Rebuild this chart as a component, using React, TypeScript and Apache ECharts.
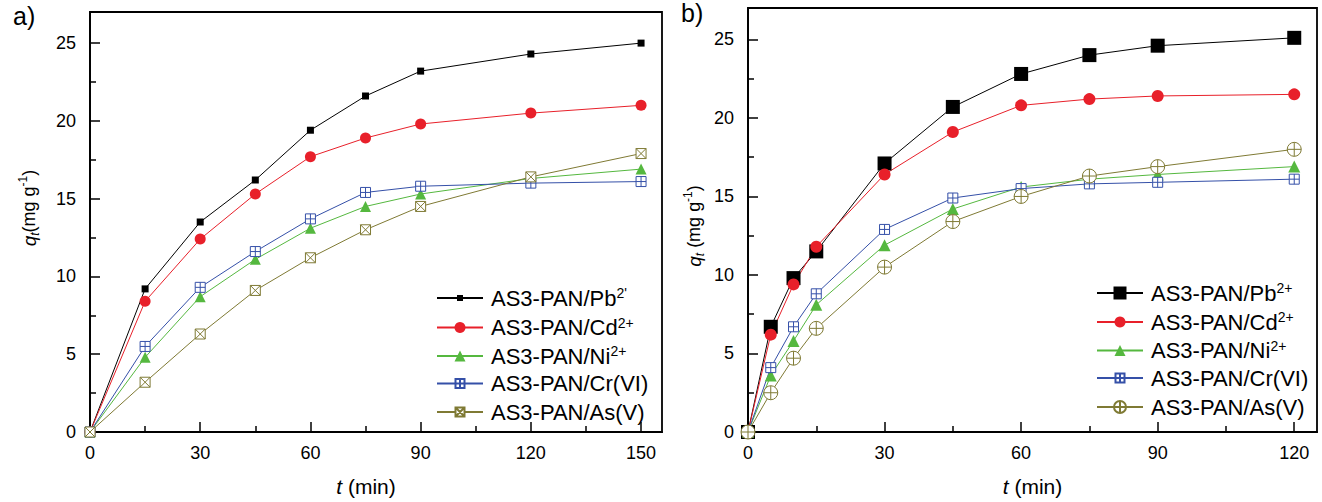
import React, { useEffect, useRef } from 'react';
import * as echarts from 'echarts';

// Adsorption kinetics: uptake q_t (mg g^-1) versus contact time t (min)

// Panel a) time points
const timeA = [0, 15, 30, 45, 60, 75, 90, 120, 150];
const pbA = [0, 9.2, 13.5, 16.2, 19.4, 21.6, 23.2, 24.3, 25.0];
const cdA = [0, 8.4, 12.4, 15.3, 17.7, 18.9, 19.8, 20.5, 21.0];
const niA = [0, 4.8, 8.7, 11.1, 13.1, 14.5, 15.3, 16.3, 16.9];
const crA = [0, 5.5, 9.3, 11.6, 13.7, 15.4, 15.8, 16.0, 16.1];
const asA = [0, 3.2, 6.3, 9.1, 11.2, 13.0, 14.5, 16.4, 17.9];

// Panel b) time points
const timeB = [0, 5, 10, 15, 30, 45, 60, 75, 90, 120];
const pbB = [0, 6.7, 9.8, 11.5, 17.1, 20.7, 22.8, 24.0, 24.6, 25.1];
const cdB = [0, 6.2, 9.4, 11.8, 16.4, 19.1, 20.8, 21.2, 21.4, 21.5];
const niB = [0, 3.6, 5.8, 8.1, 11.9, 14.2, 15.6, 16.1, 16.4, 16.9];
const crB = [0, 4.1, 6.7, 8.8, 12.9, 14.9, 15.5, 15.8, 15.9, 16.1];
const asB = [0, 2.5, 4.7, 6.6, 10.5, 13.4, 15.0, 16.3, 16.9, 18.0];

// Tick positions
const majorXA = [0, 30, 60, 90, 120, 150];
const minorXA = [15, 45, 75, 105, 135];
const majorXB = [0, 30, 60, 90, 120];
const minorXB = [15, 45, 75, 105];
const majorY = [0, 5, 10, 15, 20, 25];
const minorY = [2.5, 7.5, 12.5, 17.5, 22.5];

const FONT = '"Liberation Sans", Arial, Helvetica, sans-serif';
const BLACK = '#000000';
const RED = '#e8202a';
const GREEN = '#55b83f';
const BLUE = '#3550a8';
const OLIVE = '#7f7a34';

const SYM_BOX_PLUS = 'path://M0,0L10,0L10,10L0,10Z M5,0L5,10 M0,5L10,5';
const SYM_BOX_X = 'path://M0,0L10,0L10,10L0,10Z M0,0L10,10 M10,0L0,10';
const SYM_CIRCLE_PLUS =
  'path://M10,5A5,5 0 1 1 0,5A5,5 0 1 1 10,5Z M5,0L5,10 M0,5L10,5';

type SeriesDef = {
  name: string;
  label: string;
  xs: number[];
  ys: number[];
  color: string;
  symbol: string;
  size: number;
  legendSize: number;
  hollow?: boolean;
};

const seriesA: SeriesDef[] = [
  { name: 'a-Pb', label: "{m|AS3-PAN/Pb}{sup|2'}", xs: timeA, ys: pbA, color: BLACK, symbol: 'rect', size: 7, legendSize: 6 },
  { name: 'a-Cd', label: '{m|AS3-PAN/Cd}{sup|2+}', xs: timeA, ys: cdA, color: RED, symbol: 'circle', size: 11, legendSize: 11 },
  { name: 'a-Ni', label: '{m|AS3-PAN/Ni}{sup|2+}', xs: timeA, ys: niA, color: GREEN, symbol: 'triangle', size: 11, legendSize: 11 },
  { name: 'a-Cr', label: '{m|AS3-PAN/Cr(VI)}', xs: timeA, ys: crA, color: BLUE, symbol: SYM_BOX_PLUS, size: 10, legendSize: 9, hollow: true },
  { name: 'a-As', label: '{m|AS3-PAN/As(V)}', xs: timeA, ys: asA, color: OLIVE, symbol: SYM_BOX_X, size: 10, legendSize: 9, hollow: true },
];

const seriesB: SeriesDef[] = [
  { name: 'b-Pb', label: '{m|AS3-PAN/Pb}{sup|2+}', xs: timeB, ys: pbB, color: BLACK, symbol: 'rect', size: 14, legendSize: 13 },
  { name: 'b-Cd', label: '{m|AS3-PAN/Cd}{sup|2+}', xs: timeB, ys: cdB, color: RED, symbol: 'circle', size: 12, legendSize: 11 },
  { name: 'b-Ni', label: '{m|AS3-PAN/Ni}{sup|2+}', xs: timeB, ys: niB, color: GREEN, symbol: 'triangle', size: 12, legendSize: 11 },
  { name: 'b-Cr', label: '{m|AS3-PAN/Cr(VI)}', xs: timeB, ys: crB, color: BLUE, symbol: SYM_BOX_PLUS, size: 10, legendSize: 9, hollow: true },
  { name: 'b-As', label: '{m|AS3-PAN/As(V)}', xs: timeB, ys: asB, color: OLIVE, symbol: SYM_CIRCLE_PLUS, size: 14, legendSize: 12, hollow: true },
];

// Legend row centres (px) for each panel
const legendRowsA = [298, 327.5, 356, 384.5, 413];
const legendRowsB = [293, 322, 350.5, 379, 408];

const LEGEND_LINE_H = 24;

function buildSeries(defs: SeriesDef[], xAxisIndex: number, yAxisIndex: number) {
  return defs.map((s) => ({
    type: 'line',
    name: s.name,
    xAxisIndex,
    yAxisIndex,
    data: s.xs.map((t, i) => [t, s.ys[i]]),
    symbol: s.symbol,
    symbolSize: s.size,
    showAllSymbol: true,
    clip: false,
    lineStyle: { color: s.color, width: 1 },
    itemStyle: s.hollow
      ? { color: '#ffffff', borderColor: s.color, borderWidth: 1 }
      : { color: s.color, borderWidth: 0 },
    emphasis: { disabled: true },
  }));
}

const tickLabelStyle = { fontFamily: FONT, fontSize: 18, color: BLACK };
const AXIS_W = 1.8;

function xAxes(gridIndex: number, max: number, major: number[], minor: number[], titlePad: number[]) {
  return [
    {
      type: 'value',
      gridIndex,
      position: 'bottom',
      min: 0,
      max,
      axisLine: { show: true, onZero: false, lineStyle: { color: BLACK, width: AXIS_W } },
      axisTick: { show: true, inside: true, length: 10, customValues: major, lineStyle: { color: BLACK, width: 1.5 } },
      axisLabel: { show: true, margin: 12, customValues: major, ...tickLabelStyle },
      splitLine: { show: false },
      name: '{t|t}{n| (min)}',
      nameLocation: 'middle',
      nameGap: 44,
      nameTextStyle: {
        fontFamily: FONT,
        fontSize: 21,
        color: BLACK,
        padding: titlePad,
        rich: {
          t: { fontFamily: FONT, fontSize: 21, fontStyle: 'italic', color: BLACK },
          n: { fontFamily: FONT, fontSize: 21, color: BLACK },
        },
      },
    },
    {
      type: 'value',
      gridIndex,
      position: 'bottom',
      min: 0,
      max,
      axisLine: { show: false, onZero: false },
      axisTick: { show: true, inside: true, length: 6, customValues: minor, lineStyle: { color: BLACK, width: 1.5 } },
      axisLabel: { show: false },
      splitLine: { show: false },
    },
  ];
}

function yAxes(gridIndex: number) {
  return [
    {
      type: 'value',
      gridIndex,
      position: 'left',
      min: 0,
      max: 27,
      axisLine: { show: true, onZero: false, lineStyle: { color: BLACK, width: AXIS_W } },
      axisTick: { show: true, inside: true, length: 10, customValues: majorY, lineStyle: { color: BLACK, width: 1.5 } },
      axisLabel: { show: true, margin: 14, customValues: majorY, ...tickLabelStyle },
      splitLine: { show: false },
    },
    {
      type: 'value',
      gridIndex,
      position: 'left',
      min: 0,
      max: 27,
      axisLine: { show: false, onZero: false },
      axisTick: { show: true, inside: true, length: 6, customValues: minorY, lineStyle: { color: BLACK, width: 1.5 } },
      axisLabel: { show: false },
      splitLine: { show: false },
    },
  ];
}

// One legend block per entry, so each row sits at its own height and keeps its own marker size
function legends(defs: SeriesDef[], left: number, rows: number[]) {
  return defs.map((s, i) => ({
    orient: 'vertical',
    left,
    top: rows[i] - LEGEND_LINE_H / 2,
    itemWidth: 46,
    itemHeight: s.legendSize / 0.8,
    itemGap: 0,
    padding: 0,
    selectedMode: false,
    data: [s.name],
    formatter: () => s.label,
    textStyle: {
      fontFamily: FONT,
      fontSize: 22,
      color: BLACK,
      padding: [0, 0, 0, 3],
      rich: {
        m: { fontFamily: FONT, fontSize: 22, color: BLACK, lineHeight: LEGEND_LINE_H },
        sup: { fontFamily: FONT, fontSize: 14, color: BLACK, verticalAlign: 'top', lineHeight: 13 },
      },
    },
  }));
}

const yTitleRich = {
  q: { fontFamily: FONT, fontSize: 19, fontStyle: 'italic', fill: BLACK, lineHeight: 24 },
  sub: { fontFamily: FONT, fontSize: 12, fontStyle: 'italic', fill: BLACK, verticalAlign: 'bottom', lineHeight: 12 },
  n: { fontFamily: FONT, fontSize: 18, fill: BLACK, lineHeight: 24 },
  sup: { fontFamily: FONT, fontSize: 12, fill: BLACK, verticalAlign: 'top', lineHeight: 12 },
};

function buildOption() {
  return {
    animation: false,
    backgroundColor: '#ffffff',
    grid: [
      { left: 90, top: 12, width: 572, height: 429, show: true, borderColor: BLACK, borderWidth: AXIS_W, backgroundColor: 'transparent' },
      { left: 748, top: 8, width: 569, height: 427, show: true, borderColor: BLACK, borderWidth: AXIS_W, backgroundColor: 'transparent' },
    ],
    xAxis: [
      ...xAxes(0, 155.7, majorXA, minorXA, [0, 20, 0, 0]),
      ...xAxes(1, 125, majorXB, minorXB, [0, 0, 0, 0]),
    ],
    yAxis: [...yAxes(0), ...yAxes(1)],
    legend: [...legends(seriesA, 436, legendRowsA), ...legends(seriesB, 1096, legendRowsB)],
    graphic: [
      { type: 'text', left: 13, top: 3, style: { text: 'a)', fontFamily: FONT, fontSize: 25, fill: BLACK } },
      { type: 'text', left: 681, top: 0, style: { text: 'b)', fontFamily: FONT, fontSize: 25, fill: BLACK } },
      {
        type: 'text',
        x: 29,
        y: 208,
        rotation: Math.PI / 2,
        style: {
          text: '{q|q}{sub|t}{n|(mg g}{sup|-1}{n|)}',
          align: 'center',
          verticalAlign: 'middle',
          fontFamily: FONT,
          fontSize: 18,
          fill: BLACK,
          rich: yTitleRich,
        },
      },
      {
        type: 'text',
        x: 694,
        y: 226,
        rotation: Math.PI / 2,
        style: {
          text: '{q|q}{sub|t}{n| (mg g}{sup|-1}{n|)}',
          align: 'center',
          verticalAlign: 'middle',
          fontFamily: FONT,
          fontSize: 18,
          fill: BLACK,
          rich: yTitleRich,
        },
      },
    ],
    series: [...buildSeries(seriesA, 0, 0), ...buildSeries(seriesB, 2, 2)],
  };
}

export default function App() {
  const ref = useRef<HTMLDivElement>(null);
  useEffect(() => {
    if (!ref.current) return;
    const chart = echarts.init(ref.current, null, { renderer: 'svg' });
    chart.setOption(buildOption() as any);
    return () => chart.dispose();
  }, []);
  return (
    <div
      ref={ref}
      style={{ position: 'fixed', left: 0, top: 0, width: 1322, height: 502, background: '#ffffff' }}
    />
  );
}
